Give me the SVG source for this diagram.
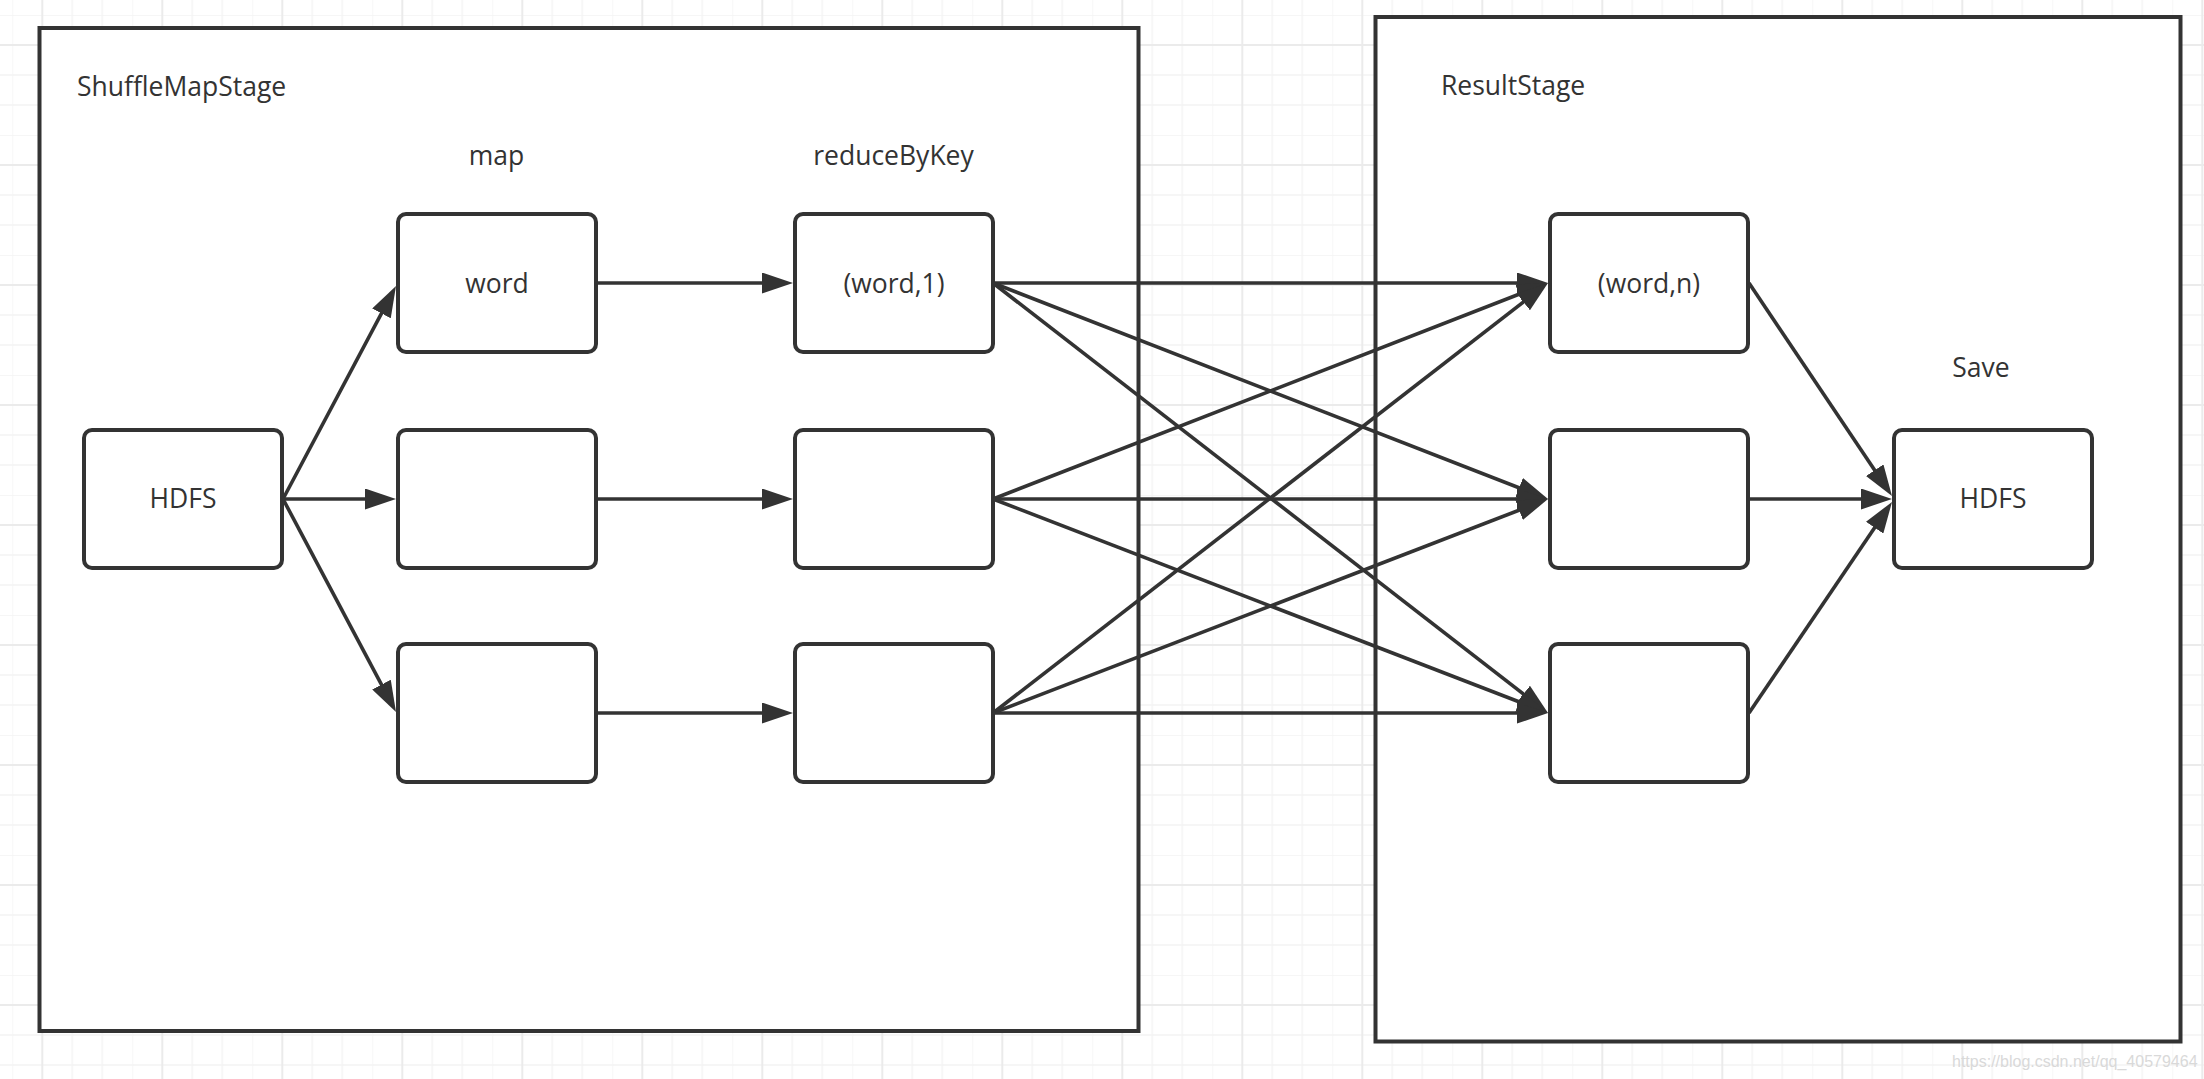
<svg xmlns="http://www.w3.org/2000/svg" width="2204" height="1079" viewBox="0 0 2204 1079">
  <defs>
    <pattern id="grid" patternUnits="userSpaceOnUse" x="12.3" y="15" width="120" height="120">
      <rect width="120" height="120" fill="#ffffff"/>
      <path d="M0,0 V120 M60,0 V120 M90,0 V120 M0,0 H120 M0,60 H120 M0,90 H120" stroke="#f3f3f3" stroke-width="1.3" fill="none"/>
      <path d="M30,0 V120 M0,30 H120" stroke="#ebebeb" stroke-width="2" fill="none"/>
    </pattern>
    <marker id="arrow" markerUnits="userSpaceOnUse" viewBox="0 0 31 21" markerWidth="31" markerHeight="21" refX="19" refY="10.5" orient="auto">
      <path d="M0,0 L31,10.5 L0,21 Z" fill="#333333"/>
    </marker>
  </defs>
  <style>
    .stage { fill: #ffffff; stroke: #333333; stroke-width: 4; }
    .box { fill: #ffffff; stroke: #333333; stroke-width: 4; }
    .lbl { font-family: "Open Sans", "Noto Sans", sans-serif; font-size: 26.5px; fill: #333333; }
    .mid { text-anchor: middle; }
    .edge { stroke: #333333; stroke-width: 3.6; fill: none; marker-end: url(#arrow); }
    .wm { font-family: "Liberation Sans", Arial, sans-serif; font-size: 16px; fill: #d9d9d9; }
  </style>

  <rect x="0" y="0" width="2204" height="1079" fill="url(#grid)"/>

  <g id="stage-shufflemap">
    <rect class="stage" x="39.5" y="28" width="1099" height="1003"/>
    <text class="lbl" x="77" y="96">ShuffleMapStage</text>
    <text class="lbl mid" x="496.5" y="165">map</text>
    <text class="lbl mid" x="893.5" y="165">reduceByKey</text>
  </g>

  <g id="stage-result">
    <rect class="stage" x="1375.5" y="17" width="805" height="1024.5"/>
    <text class="lbl" x="1441" y="95">ResultStage</text>
    <text class="lbl mid" x="1981" y="377">Save</text>
  </g>

  <g id="hdfs-source">
    <rect class="box" x="84" y="430" width="198" height="138" rx="8"/>
    <text class="lbl mid" x="183" y="508">HDFS</text>
  </g>

  <g id="map-1">
    <rect class="box" x="398" y="214" width="198" height="138" rx="8"/>
    <text class="lbl mid" x="497" y="293">word</text>
  </g>
  <g id="map-2">
    <rect class="box" x="398" y="430" width="198" height="138" rx="8"/>
  </g>
  <g id="map-3">
    <rect class="box" x="398" y="644" width="198" height="138" rx="8"/>
  </g>

  <g id="reduce-1">
    <rect class="box" x="795" y="214" width="198" height="138" rx="8"/>
    <text class="lbl mid" x="894" y="293">(word,1)</text>
  </g>
  <g id="reduce-2">
    <rect class="box" x="795" y="430" width="198" height="138" rx="8"/>
  </g>
  <g id="reduce-3">
    <rect class="box" x="795" y="644" width="198" height="138" rx="8"/>
  </g>

  <g id="result-1">
    <rect class="box" x="1550" y="214" width="198" height="138" rx="8"/>
    <text class="lbl mid" x="1649" y="293">(word,n)</text>
  </g>
  <g id="result-2">
    <rect class="box" x="1550" y="430" width="198" height="138" rx="8"/>
  </g>
  <g id="result-3">
    <rect class="box" x="1550" y="644" width="198" height="138" rx="8"/>
  </g>

  <g id="hdfs-sink">
    <rect class="box" x="1894" y="430" width="198" height="138" rx="8"/>
    <text class="lbl mid" x="1993" y="508">HDFS</text>
  </g>

  <g id="connectors">
    <line class="edge" x1="283" y1="499" x2="390.38" y2="296.6"/>
    <line class="edge" x1="283" y1="499" x2="384" y2="499"/>
    <line class="edge" x1="283" y1="499" x2="390.38" y2="701.4"/>

    <line class="edge" x1="597" y1="283" x2="781" y2="283"/>
    <line class="edge" x1="597" y1="499" x2="781" y2="499"/>
    <line class="edge" x1="597" y1="713" x2="781" y2="713"/>

    <line class="edge" x1="993" y1="283" x2="1536" y2="283"/>
    <line class="edge" x1="993" y1="283" x2="1536.81" y2="494.67"/>
    <line class="edge" x1="993" y1="283" x2="1538.51" y2="705.65"/>
    <line class="edge" x1="993" y1="499" x2="1536.81" y2="287.33"/>
    <line class="edge" x1="993" y1="499" x2="1536" y2="499"/>
    <line class="edge" x1="993" y1="499" x2="1536.81" y2="708.67"/>
    <line class="edge" x1="993" y1="713" x2="1538.51" y2="290.35"/>
    <line class="edge" x1="993" y1="713" x2="1536.81" y2="503.33"/>
    <line class="edge" x1="993" y1="713" x2="1536" y2="713"/>

    <line class="edge" x1="1749" y1="283" x2="1885.31" y2="486.04"/>
    <line class="edge" x1="1749" y1="499" x2="1880" y2="499"/>
    <line class="edge" x1="1749" y1="713" x2="1885.27" y2="511.94"/>
  </g>

  <text class="wm" x="1952" y="1067">https://blog.csdn.net/qq_40579464</text>
</svg>
